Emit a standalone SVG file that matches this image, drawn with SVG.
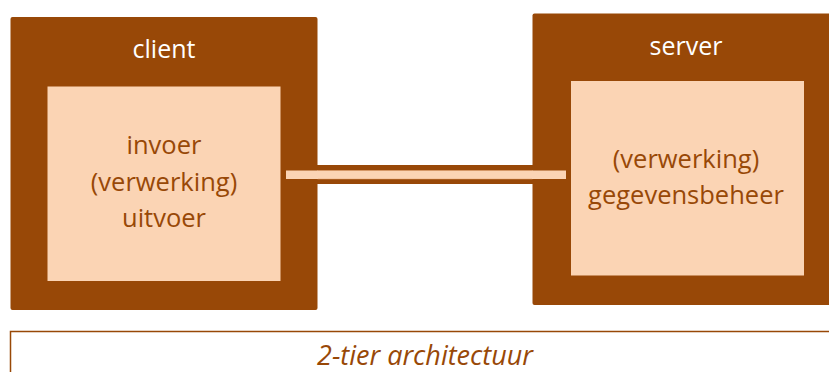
<svg xmlns="http://www.w3.org/2000/svg" width="829" height="372" viewBox="0 0 829 372">
  <style>
    .outer { fill: #984807; }
    .inner { fill: #FBD4B4; }
    .title { font-family: "Open Sans", "Noto Sans", sans-serif; font-size: 25px; fill: #FFFFFF; text-anchor: middle; }
    .body { font-family: "Open Sans", "Noto Sans", sans-serif; font-size: 25.5px; fill: #984807; text-anchor: middle; }
    .caption { font-family: "Open Sans", "Noto Sans", sans-serif; font-size: 27px; font-style: italic; fill: #984807; text-anchor: middle; }
  </style>

  <!-- link between the two tiers -->
  <g id="connectors">
    <rect x="316" y="165" width="218" height="19" class="outer"/>
    <rect x="286" y="170.5" width="280" height="8.5" class="inner" stroke="#E0A070" stroke-width="0.5"/>
  </g>

  <g id="client">
    <rect x="10.5" y="17" width="307" height="293" rx="2" class="outer"/>
    <rect x="47.5" y="86.5" width="233" height="194.5" class="inner"/>
    <rect x="286" y="170.5" width="32" height="8.5" class="inner"/>
    <text x="164" y="58" class="title">client</text>
    <text x="164" y="154" class="body">invoer</text>
    <text x="164" y="191" class="body">(verwerking)</text>
    <text x="164" y="227" class="body">uitvoer</text>
  </g>

  <g id="server">
    <rect x="532.5" y="13.5" width="300" height="291.5" rx="2" class="outer"/>
    <rect x="571" y="81" width="233" height="194.5" class="inner"/>
    <rect x="532" y="170.5" width="34" height="8.5" class="inner"/>
    <text x="686" y="55" class="title">server</text>
    <text x="686" y="168" class="body">(verwerking)</text>
    <text x="686" y="204" class="body">gegevensbeheer</text>
  </g>

  <g id="caption">
    <rect x="10.5" y="331.5" width="825" height="50" fill="#FFFFFF" stroke="#984807" stroke-width="1.5"/>
    <text x="425" y="365" class="caption">2-tier architectuur</text>
  </g>
</svg>
